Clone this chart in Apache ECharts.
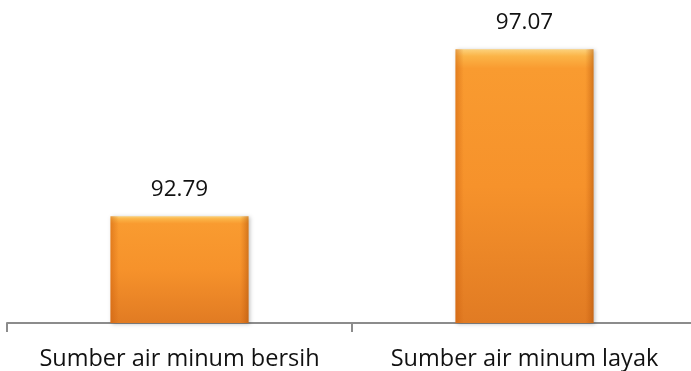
<!DOCTYPE html>
<html>
<head>
<meta charset="utf-8">
<script src="https://cdn.jsdelivr.net/npm/echarts@6/dist/echarts.min.js"></script>
<style>
  html, body { margin: 0; padding: 0; background: #fff; overflow: hidden; }
  #chart { width: 698px; height: 371px; }
</style>
</head>
<body>
<div id="chart"></div>
<script>
const categories = ['Sumber air minum bersih', 'Sumber air minum layak']
const values = [92.79, 97.07]

const chart = echarts.init(document.getElementById('chart'))

// bevelled orange look: bright rim at the top, darker towards the base
const barFill = new echarts.graphic.LinearGradient(0, 0, 0, 1, [
  { offset: 0, color: '#fcd27c' },
  { offset: 0.025, color: '#fbb447' },
  { offset: 0.07, color: '#f99b30' },
  { offset: 0.5, color: '#f6922b' },
  { offset: 1, color: '#e17b23' }
])

// darker side edges, laid over the fill
const edgeShade = new echarts.graphic.LinearGradient(0, 0, 1, 0, [
  { offset: 0, color: 'rgba(200,90,10,0.45)' },
  { offset: 0.06, color: 'rgba(200,90,10,0)' },
  { offset: 0.94, color: 'rgba(200,90,10,0)' },
  { offset: 1, color: 'rgba(170,80,10,0.5)' }
])

chart.setOption({
  animation: false,
  grid: {
    left: 7,
    right: 1,
    top: 13,
    bottom: 46
  },
  xAxis: {
    type: 'category',
    data: categories,
    axisLine: { lineStyle: { color: '#8c8c8c', width: 2 } },
    axisTick: { show: true, interval: 0, length: 9, lineStyle: { color: '#8c8c8c', width: 2 } },
    axisLabel: {
      interval: 0,
      hideOverlap: false,
      color: '#111',
      fontSize: 23.5,
      fontFamily: 'Open Sans',
      margin: 24
    }
  },
  yAxis: {
    type: 'value',
    min: 90.05,
    max: 98,
    show: false,
    splitLine: { show: false }
  },
  series: [
    {
      type: 'bar',
      data: values,
      barWidth: '40%',
      itemStyle: {
        color: barFill,
        shadowColor: 'rgba(0,0,0,0.25)',
        shadowBlur: 4,
        shadowOffsetX: 1,
        shadowOffsetY: 1
      },
      label: {
        show: true,
        position: 'top',
        distance: 15,
        color: '#111',
        fontSize: 22.5,
        fontFamily: 'Open Sans',
        formatter: p => p.value.toFixed(2)
      }
    },
    {
      type: 'bar',
      data: values,
      barWidth: '40%',
      barGap: '-100%',
      silent: true,
      itemStyle: { color: edgeShade }
    }
  ]
})
</script>
</body>
</html>
